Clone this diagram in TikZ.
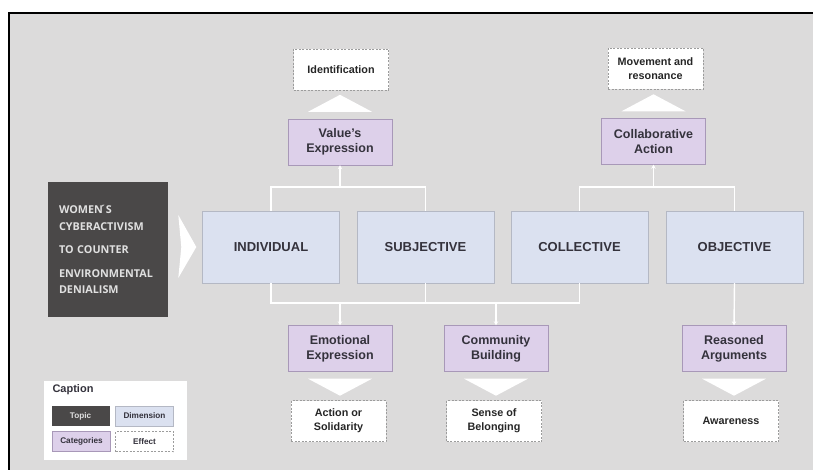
\documentclass[tikz,border=0pt]{standalone}
\usepackage{fontspec}
\setmainfont{Liberation Sans}
\newfontfamily\topicfont{Open Sans}
\usetikzlibrary{arrows.meta,positioning}
\definecolor{bggray}{HTML}{DCDBDB}
\definecolor{topicgray}{HTML}{4A4848}
\definecolor{dimblue}{HTML}{DBE1F0}
\definecolor{dimborder}{HTML}{B4B8C4}
\definecolor{catpurple}{HTML}{DDD0EA}
\definecolor{catborder}{HTML}{A898B8}
\definecolor{effborder}{HTML}{9C9C9C}
\definecolor{textdark}{HTML}{34323C}
\tikzset
{
    topicnode/.style = {rectangle, fill=topicgray, minimum width=120pt, minimum height=135pt, text width=98pt, align=left, text=white!88!black, font=\topicfont\bfseries\fontsize{10.8}{16.5}\selectfont},
    dimnode/.style   = {rectangle, draw=dimborder, fill=dimblue, minimum width=137pt, minimum height=72pt, align=center, text=textdark, font=\bfseries\fontsize{13}{15}\selectfont},
    catnode/.style   = {rectangle, draw=catborder, fill=catpurple, minimum width=104pt, minimum height=46pt, align=center, text=textdark, font=\bfseries\fontsize{12.5}{15}\selectfont},
    effnode/.style   = {rectangle, draw=effborder, dash pattern=on 2pt off 1.5pt, fill=white, minimum width=95pt, minimum height=41pt, align=center, text=black!85, font=\bfseries\fontsize{10.8}{14}\selectfont},
    legendnode/.style = {rectangle, minimum width=58pt, minimum height=20pt, inner sep=0pt, text=textdark, font=\bfseries\fontsize{8.2}{9}\selectfont},
    link/.style      = {draw=white, line width=1.4pt},
    linkarrow/.style = {link, -{Stealth[length=4pt,width=4.5pt]}}
}

\begin{document}
\begin{tikzpicture}[x=1pt, y=-1pt]
\useasboundingbox (0,0) rectangle (813,470);
\clip (0,0) rectangle (813,470);
\draw[line width=1.6pt, fill=bggray] (9,13) rectangle (830,490);

% topic and dimensions
\node[topicnode] (topic) at (108,249.5) {WOMEN\'{}S\\CYBERACTIVISM\\[7pt]TO COUNTER\\[7pt]ENVIRONMENTAL\\DENIALISM};
\node[dimnode] (ind) at (271,247) {INDIVIDUAL};
\node[dimnode] (sub) at (425.5,247) {SUBJECTIVE};
\node[dimnode] (col) at (579.5,247) {COLLECTIVE};
\node[dimnode] (obj) at (734.5,247) {OBJECTIVE};
\fill[white] ([xshift=-24pt,yshift=32pt]ind.west) -- ([xshift=-6pt]ind.west) -- ([xshift=-24pt,yshift=-31pt]ind.west) -- ([xshift=-21pt]ind.west) -- cycle;

% categories
\node[catnode] (valexp) at (340,142) {Value's\\Expression};
\node[catnode] (colact) at (653.5,141.5) {Collaborative\\Action};
\node[catnode] (emoexp) at (340,348.5) {Emotional\\Expression};
\node[catnode] (combld) at (496,348.5) {Community\\Building};
\node[catnode] (reaarg) at (734,348.5) {Reasoned\\Arguments};

% effects
\node[effnode] (ident) at (341,69.5) {Identification};
\node[effnode] (movres) at (655.5,69) {Movement and\\resonance};
\node[effnode] (actsol) at (338.5,421) {Action or\\Solidarity};
\node[effnode] (sensbel) at (494,421) {Sense of\\Belonging};
\node[effnode] (aware) at (731,421) {Awareness};

\foreach \c in {valexp,colact}
  \fill[white] ([xshift=-32pt,yshift=7pt]\c.north) -- ([xshift=32pt,yshift=7pt]\c.north) -- ([yshift=24pt]\c.north) -- cycle;
\foreach \c in {emoexp,combld,reaarg}
  \fill[white] ([xshift=-32pt,yshift=-7pt]\c.south) -- ([xshift=32pt,yshift=-7pt]\c.south) -- ([yshift=-24pt]\c.south) -- cycle;

% connectors
\coordinate (jval) at (340,187);
\coordinate (jcol) at (653.5,187);
\coordinate (jemo) at (340,303);
\coordinate (jcom) at (496,303);
\draw[link] (ind.north) |- (jval) -| (sub.north);
\draw[linkarrow] (jval) -- (valexp.south);
\draw[link] (col.north) |- (jcol) -| (obj.north);
\draw[linkarrow] (jcol) -- (colact.south);
\draw[link] (ind.south) |- (jemo) -- (jcom) -| (col.south);
\draw[link] (sub.south) -- (sub.south |- jemo);
\draw[linkarrow] (jemo) -- (emoexp.north);
\draw[linkarrow] (jcom) -- (combld.north);
\draw[linkarrow] (obj.south) -- (reaarg.north);

% caption
\fill[white] (44,381) rectangle (187,460);
\node[anchor=west, text=textdark, font=\bfseries\fontsize{11}{12}\selectfont] (captitle) at (49,390) {Caption};
\node[legendnode, fill=topicgray, text=white!88!black] (legtopic) at (80.5,416) {Topic};
\node[legendnode, fill=dimblue, draw=dimborder] (legdim) at (144.5,416) {Dimension};
\node[legendnode, fill=catpurple, draw=catborder] (legcat) at (81.5,441.5) {Categories};
\node[legendnode, fill=white, draw=effborder, dash pattern=on 2pt off 1.5pt] (legeff) at (144.5,441.5) {Effect};
\end{tikzpicture}
\end{document}
